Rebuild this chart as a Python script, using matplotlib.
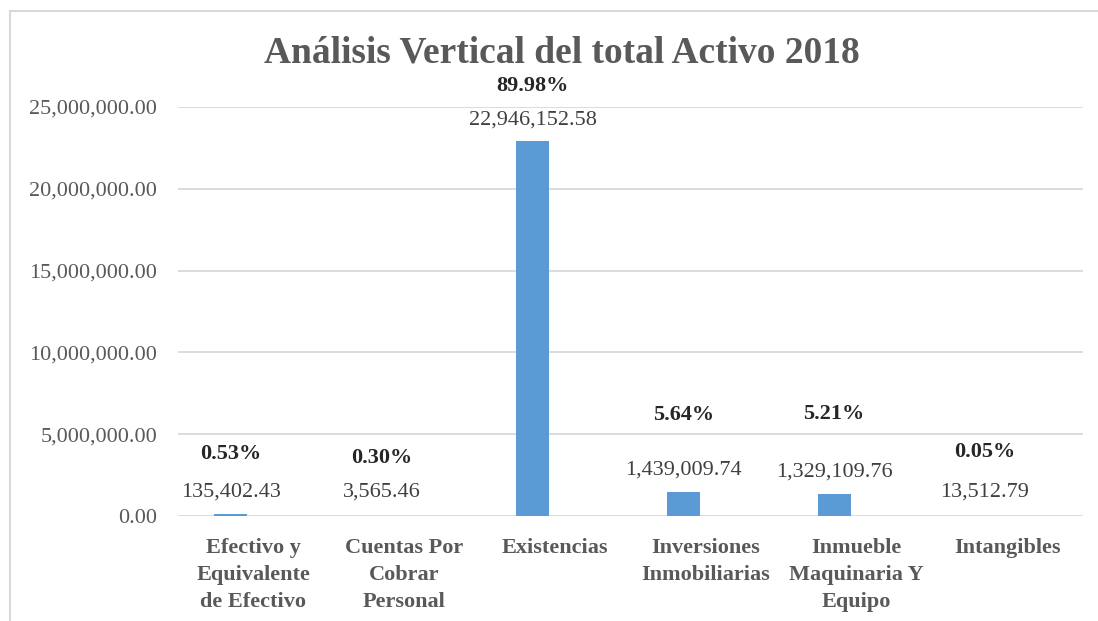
import matplotlib.pyplot as plt
from matplotlib.lines import Line2D
from matplotlib.ticker import FuncFormatter
import numpy as np

categories = ["Efectivo y\nEquivalente\nde Efectivo", "Cuentas Por\nCobrar\nPersonal",
              "Existencias", "Inversiones\nInmobiliarias", "Inmueble\nMaquinaria Y\nEquipo",
              "Intangibles"]
values = [135402.43, 3565.46, 22946152.58, 1439009.74, 1329109.76, 13512.79]
percents = ["0.53%", "0.30%", "89.98%", "5.64%", "5.21%", "0.05%"]

# label offsets (points above bar top)
val_off = [16, 17, 15, 16, 16, 17]
pct_off = [43, 42, 39, 56, 58, 46]

plt.rcParams['font.family'] = ['Liberation Serif', 'DejaVu Serif']
gray = '#595959'

fig = plt.figure(figsize=(10.98, 6.21), dpi=100)
# outer chart border (top and left only visible)
fig.lines.append(Line2D([10/1098, 10/1098], [0, 1 - 11/621], transform=fig.transFigure,
                        color='#D9D9D9', linewidth=1.5))
fig.lines.append(Line2D([10/1098, 1], [1 - 11/621, 1 - 11/621], transform=fig.transFigure,
                        color='#D9D9D9', linewidth=1.5))
ax = fig.add_axes([178/1098, 1 - 516/621, 905/1098, 409/621])

x = np.arange(len(categories))
shift = -0.15
bars = ax.bar(x + shift, values, width=0.22, color='#5B9BD5', zorder=3)

ax.set_xlim(-0.5, len(categories) - 0.5)
ax.set_ylim(0, 25000000)
ax.set_yticks(np.arange(0, 25000001, 5000000))
ax.yaxis.set_major_formatter(FuncFormatter(lambda v, p: f"{v:,.2f}"))
ax.set_xticks(x)
ax.set_xticklabels(categories, fontweight='bold', fontsize=16, color=gray, linespacing=1.45)
ax.tick_params(axis='y', labelsize=16, labelcolor=gray, length=0, pad=15)
ax.tick_params(axis='x', length=0, pad=16)
ax.grid(axis='y', color='#D9D9D9', linewidth=1.3, zorder=0)
for s in ax.spines.values():
    s.set_visible(False)

for i, b in enumerate(bars):
    cx = b.get_x() + b.get_width() / 2
    ax.annotate(f"{values[i]:,.2f}", (cx, values[i]), xytext=(0, val_off[i]),
                textcoords='offset points', ha='center', va='center', fontsize=16, color='#404040')
    ax.annotate(percents[i], (cx, values[i]), xytext=(0, pct_off[i]),
                textcoords='offset points', ha='center', va='center', fontsize=16,
                fontweight='bold', color='#262626')

fig.text(562/1098, 1 - 53/621, "Análisis Vertical del total Activo 2018", ha='center', va='center',
         fontsize=27, fontweight='bold', color=gray)

fig.savefig("out.png", dpi=100)
